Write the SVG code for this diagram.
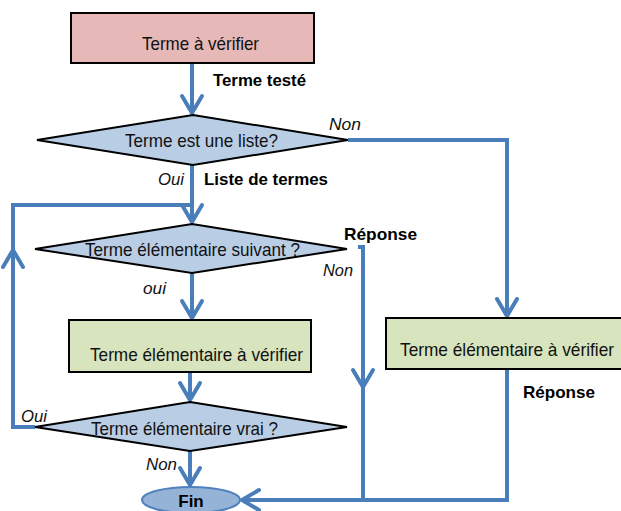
<svg xmlns="http://www.w3.org/2000/svg" width="621" height="511" viewBox="0 0 621 511">
<style>
.t{font-family:"Liberation Sans",Arial,sans-serif;font-size:19px;fill:#111}
.b{font-family:"Liberation Sans",Arial,sans-serif;font-size:17px;font-weight:bold;fill:#000}
.i{font-family:"Liberation Sans",Arial,sans-serif;font-size:17px;font-style:italic;fill:#111}
.box{stroke:#000;stroke-width:2}
.dia{fill:#b9cde5;stroke:#000;stroke-width:2}
.c{fill:none;stroke:#4a7ebb;stroke-width:4}
</style>
<defs>
<marker id="ah" viewBox="-20 -15 30 30" markerWidth="30" markerHeight="30" refX="0" refY="0" orient="auto" markerUnits="userSpaceOnUse" overflow="visible">
<path d="M-17,-10 L0,0 L-17,10" fill="none" stroke="#4a7ebb" stroke-width="4" stroke-linecap="round" stroke-linejoin="round"/>
</marker>
</defs>
<rect width="621" height="511" fill="#fff"/>
<g id="connectors">
<path class="c" d="M192,63 V113" marker-end="url(#ah)"/>
<path class="c" d="M348,140 H507 V316" marker-end="url(#ah)"/>
<path class="c" d="M192,165 V222" marker-end="url(#ah)"/>
<path class="c" d="M35,427 H13 V250" marker-end="url(#ah)"/>
<path class="c" d="M13,250 V205 H192"/>
<path class="c" d="M192,273 V318" marker-end="url(#ah)"/>
<path class="c" d="M190,372 V400" marker-end="url(#ah)"/>
<path class="c" d="M190,451 V485" marker-end="url(#ah)"/>
<path class="c" d="M358,247 H363 V387" marker-end="url(#ah)"/>
<path class="c" d="M363,387 V500"/>
<path class="c" d="M507,369 V500 H242" marker-end="url(#ah)"/>
</g>
<g id="start">
<rect class="box" x="71" y="13" width="243" height="50" fill="#e6b9b8"/>
<text class="t" x="142" y="50" textLength="117" lengthAdjust="spacingAndGlyphs">Terme à vérifier</text>
</g>
<g id="d1">
<polygon class="dia" points="193,115 348,140 193,165 37,140"/>
<text class="t" x="125" y="147" textLength="153" lengthAdjust="spacingAndGlyphs">Terme est une liste?</text>
</g>
<g id="d2">
<polygon class="dia" points="192,224 347,249 192,273 35,249"/>
<text class="t" x="85" y="256" textLength="215" lengthAdjust="spacingAndGlyphs">Terme élémentaire suivant ?</text>
</g>
<g id="box2">
<rect class="box" x="69" y="320" width="242" height="52" fill="#d7e4bd"/>
<text class="t" x="90" y="361" textLength="213" lengthAdjust="spacingAndGlyphs">Terme élémentaire à vérifier</text>
</g>
<g id="box3">
<rect class="box" x="386" y="318" width="245" height="51" fill="#d7e4bd"/>
<text class="t" x="400" y="356" textLength="214" lengthAdjust="spacingAndGlyphs">Terme élémentaire à vérifier</text>
</g>
<g id="d3">
<polygon class="dia" points="190,402 347,427 190,451 35,427"/>
<text class="t" x="91" y="435" textLength="187" lengthAdjust="spacingAndGlyphs">Terme élémentaire vrai ?</text>
</g>
<g id="fin">
<ellipse cx="191" cy="500" rx="49" ry="13" fill="#95b3d7" stroke="#4f81bd" stroke-width="2"/>
<text class="b" x="191" y="507" text-anchor="middle" font-size="18">Fin</text>
</g>
<g id="labels">
<text class="b" x="213" y="86" textLength="93" lengthAdjust="spacingAndGlyphs">Terme testé</text>
<text class="i" x="329" y="130" textLength="32" lengthAdjust="spacingAndGlyphs">Non</text>
<text class="i" x="158" y="185" textLength="26" lengthAdjust="spacingAndGlyphs">Oui</text>
<text class="b" x="204" y="185" textLength="124" lengthAdjust="spacingAndGlyphs">Liste de termes</text>
<text class="b" x="344" y="240" textLength="73" lengthAdjust="spacingAndGlyphs">Réponse</text>
<text class="i" x="323" y="276" textLength="30" lengthAdjust="spacingAndGlyphs">Non</text>
<text class="i" x="143" y="294" textLength="23" lengthAdjust="spacingAndGlyphs">oui</text>
<text class="b" x="523" y="398" textLength="72" lengthAdjust="spacingAndGlyphs">Réponse</text>
<text class="i" x="21" y="422" textLength="26" lengthAdjust="spacingAndGlyphs">Oui</text>
<text class="i" x="146" y="470" textLength="31" lengthAdjust="spacingAndGlyphs">Non</text>
</g>
</svg>
